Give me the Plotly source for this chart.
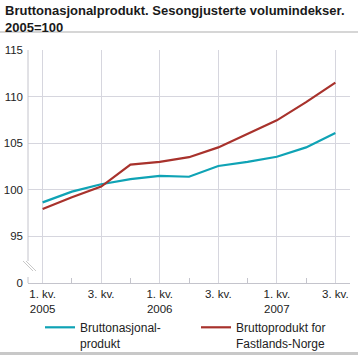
import plotly.graph_objects as go

quarters = ["1. kv.<br>2005", "2. kv. 2005", "3. kv.", "4. kv. 2005",
            "1. kv.<br>2006", "2. kv. 2006", "3. kv.", "4. kv. 2006",
            "1. kv.<br>2007", "2. kv. 2007", "3. kv."]
bnp = [98.65, 99.8, 100.6, 101.15, 101.5, 101.4, 102.55, 103.0, 103.55, 104.55, 106.1]
fastland = [97.95, 99.2, 100.35, 102.7, 103.0, 103.5, 104.55, 106.0, 107.45, 109.4, 111.5]
y_ticks = [90, 95, 100, 105, 110, 115]
y_ticktext = ["0", "95", "100", "105", "110", "115"]
series_names = ["Bruttonasjonal-<br>produkt", "Bruttoprodukt for<br>Fastlands-Norge"]
title_text = "<b>Bruttonasjonalprodukt. Sesongjusterte volumindekser.<br>2005=100</b>"

W, H = 358, 355
L, R, T, B = 28, 8, 50, 72
pw, ph = W - L - R, H - T - B

def px_x(p):
    return (p - L) / pw

def px_y(p):
    return (H - B - p) / ph

x_idx = list(range(len(quarters)))
major = [i for i in x_idx if i % 2 == 0]
minor = [i for i in x_idx if i % 2 == 1]

fig = go.Figure()
fig.add_trace(go.Scatter(x=x_idx, y=bnp, mode="lines", name=series_names[0],
                         line=dict(color="#0fa3b5", width=2.2)))
fig.add_trace(go.Scatter(x=x_idx, y=fastland, mode="lines", name=series_names[1],
                         line=dict(color="#a8322c", width=2.2)))

grid_c = "#d6d6de"
axis_c = "#c4c4cc"
fig.update_layout(
    width=W, height=H,
    margin=dict(l=L, r=R, t=T, b=B, autoexpand=False),
    paper_bgcolor="white", plot_bgcolor="white",
    font=dict(family="Liberation Sans, Arial, sans-serif", color="#222", size=11.5),
    showlegend=True,
    legend=dict(orientation="h", xref="container", yref="container",
                x=40 / W, y=1 - 313 / H, xanchor="left", yanchor="top",
                valign="top", entrywidth=111, entrywidthmode="pixels",
                font=dict(size=12, color="#222"), bgcolor="rgba(0,0,0,0)"),
    xaxis=dict(range=[-0.5, 10.5], tickmode="array", tickvals=major,
               ticktext=[quarters[i] for i in major],
               showgrid=True, gridcolor=grid_c, gridwidth=1,
               showline=True, linecolor=axis_c, linewidth=1,
               ticks="", zeroline=False, fixedrange=True,
               minor=dict(tickmode="array", tickvals=minor, ticks="inside",
                          ticklen=5, tickcolor=axis_c, tickwidth=1, showgrid=False)),
    yaxis=dict(range=[90, 115], tickmode="array", tickvals=y_ticks, ticktext=y_ticktext,
               showgrid=True, gridcolor=grid_c, gridwidth=1,
               showline=False, ticks="", zeroline=False, ticklabelstandoff=4,
               fixedrange=True),
)

fig.add_annotation(text=title_text, xref="paper", yref="paper",
                   x=px_x(3), y=px_y(1), xanchor="left", yanchor="top",
                   align="left", showarrow=False,
                   font=dict(size=13, color="#1a1a1a"))

shapes = []
# y axis line with break
shapes.append(dict(type="line", xref="paper", yref="paper",
                   x0=0, x1=0, y0=px_y(261), y1=1, line=dict(color=axis_c, width=1)))
shapes.append(dict(type="line", xref="paper", yref="paper",
                   x0=0, x1=0, y0=0, y1=px_y(277), line=dict(color=axis_c, width=1)))
for off in (0, 3):
    shapes.append(dict(type="line", xref="paper", yref="paper",
                       x0=px_x(23 + off), x1=px_x(33 + off),
                       y0=px_y(261), y1=px_y(271),
                       line=dict(color="#c8c8c8", width=1)))
# top separator line
shapes.append(dict(type="line", xref="paper", yref="paper",
                   x0=px_x(0), x1=px_x(W), y0=px_y(32), y1=px_y(32),
                   line=dict(color="#c8c8c8", width=1.5)))
# bottom separator line
shapes.append(dict(type="line", xref="paper", yref="paper",
                   x0=px_x(0), x1=px_x(W), y0=px_y(353.5), y1=px_y(353.5),
                   line=dict(color="#c8c8c8", width=3)))
fig.update_layout(shapes=shapes)

fig.write_html("out.html", config={"displayModeBar": False},
               post_script="document.body.style.margin='0';document.body.style.overflow='hidden';")
